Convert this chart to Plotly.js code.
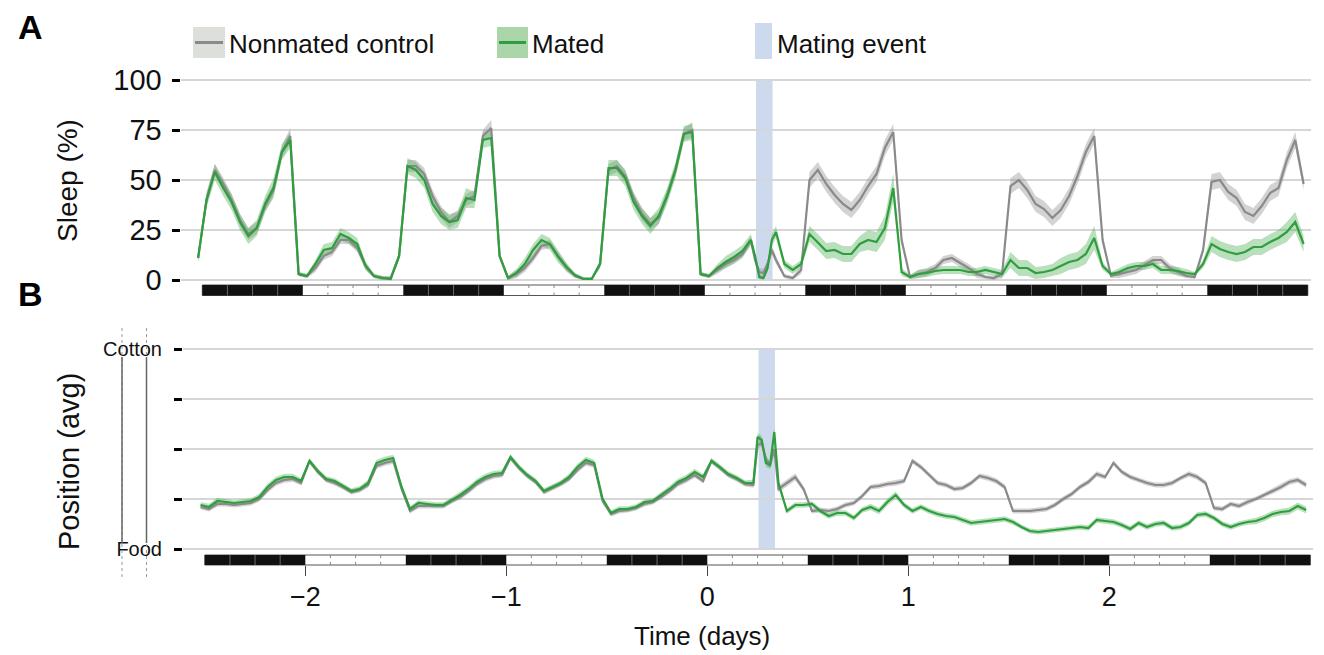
<!DOCTYPE html>
<html>
<head>
<meta charset="utf-8">
<script src="https://cdn.plot.ly/plotly-3.0.1.min.js"></script>
<style>
  html, body { margin: 0; padding: 0; background: #ffffff; }
  #chart { width: 1324px; height: 655px; }
</style>
</head>
<body>
<div id="chart"></div>
<script>
// ---------------- DATA ----------------
// time of each sample, in hours relative to the start of day 0
const hours = [
  -60.5,-59.5,-58.5,-57.5,-56.5,-55.5,-54.5,-53.5,-52.5,-51.5,-50.5,-49.5,
  -48.5,-47.5,-46.5,-45.5,-44.5,-43.5,-42.5,-41.5,-40.5,-39.5,-38.5,-37.5,
  -36.5,-35.5,-34.5,-33.5,-32.5,-31.5,-30.5,-29.5,-28.5,-27.5,-26.5,-25.5,
  -24.5,-23.5,-22.5,-21.5,-20.5,-19.5,-18.5,-17.5,-16.5,-15.5,-14.5,-13.5,
  -12.5,-11.5,-10.5,-9.5,-8.5,-7.5,-6.5,-5.5,-4.5,-3.5,-2.5,-1.5,
  -0.5,0.5,1.5,2.5,3.5,4.5,5.5,
  6.0,6.5,7.0,7.5,8.0,8.5,
  9.5,10.5,11.5,12.5,13.5,14.5,15.5,16.5,17.5,18.5,19.5,20.5,21.5,22.5,
  23.5,24.5,25.5,26.5,27.5,28.5,29.5,30.5,31.5,32.5,33.5,34.5,
  35.5,36.5,37.5,38.5,39.5,40.5,41.5,42.5,43.5,44.5,45.5,46.5,
  47.5,48.5,49.5,50.5,51.5,52.5,53.5,54.5,55.5,56.5,57.5,58.5,
  59.5,60.5,61.5,62.5,63.5,64.5,65.5,66.5,67.5,68.5,69.5,70.5,71.5
];

const seriesNames = ['Nonmated control', 'Mated'];
const eventName = 'Mating event';

// Panel A: sleep (%)
const sleepControl = [
  11,40,55,48,40,30,23,26,37,45,64,72,
  3,2,6,12,14,20,20,16,7,2,1,1,
  12,57,57,53,42,34,29,32,40,42,72,76,
  12,1,3,6,11,17,18,12,6,2,0.5,0.5,
  8,55,57,52,41,33,28,31,42,55,73,75,
  3,2,5,8,10,13,20,
  10,4,3.5,8,15,10,
  2,1,5,50,55,48,42.5,38,35,40,47,53,66,74,
  20,1.5,3,4,6,10,11,8.5,6,3,1.5,1,
  3,47,50,45,38,35.5,31,35,42,52,64,72,
  20,2,3,4,5,7.5,10,10,6,4,2,1.5,
  15,49,50,44,41,34,32,37,43.5,46,60,70,48
];
const sleepMated = [
  11,40,54,46,39,29,22,26,38,46,64,70,
  3,2,8,15,16,23,21,18,7,2,1,0.5,
  12,57,55,50,38,32,29,30,41,40,70,71,
  12,1,3.5,8,15,20,18,11.5,6.5,2.5,0.5,0.5,
  8,56,56,51,39,32,27,32,42,55,73,74,
  3,2,6,9,11.5,14.5,20,
  12,1.5,1,6,20,24,
  8,5,8,23,19,14.5,15,13,13,18,20,19,26,46,
  4,1.5,3,3.5,4.5,5,5,5,4,4,5,4,
  3,10,6,6,3.5,4,5,7,9,10,13,21,
  7,3,4,6,7,7,8,5,5,4.5,3.5,3,
  8,18,15.5,14,13,14,16.5,16.5,19,21,24,29,18
];
const sleepControlCI = [
  2,3,3,3,3,3,3,3,3,3,3,4,
  1,1,2,2,2,2,2,2,2,1,1,1,
  2,3,3,3,3,3,3,3,3,3,3,4,
  1,1,2,2,2,2,2,2,2,1,1,1,
  2,3,3,3,3,3,3,3,3,3,3,4,
  1,1,2,2,2,2,2,
  2,2,2,2,2,2,
  1,1,2,4,4,4,4,4,4,4,4,4,4,4,
  2,1,2,2,2,2,2,2,2,2,1,1,
  2,4,4,4,4,4,4,4,4,4,4,4,
  2,1,2,2,2,2,2,2,2,2,1,1,
  2,4,4,4,4,4,4,4,4,4,4,4,3
];
const sleepMatedCI = [
  2,4,4,4,4,4,4,4,4,5,4,4,
  1,1,2,3,3,3,3,3,2,1,1,1,
  2,4,4,4,4,4,4,4,5,4,4,4,
  1,1,2,3,3,3,3,3,2,1,1,1,
  2,4,4,4,4,4,4,4,4,4,4,4,
  1,1,2,3,3,3,3,
  2,1,1,2,3,3,
  2,2,2,4,4,4,4,4,4,4,5,5,6,7,
  2,1,2,2,2,2,2,2,2,2,2,2,
  2,4,4,4,3,3,3,4,4,4,5,6,
  2,1,2,2,2,2,2,2,2,2,2,1,
  2,4,4,4,4,4,4,4,4,4,5,5,4
];

// Panel B: average position (0 = food end, 1 = cotton end)
const posControl = [
  0.21,0.20,0.225,0.225,0.22,0.225,0.23,0.25,0.295,0.33,0.345,0.35,
  0.33,0.44,0.385,0.345,0.33,0.31,0.285,0.295,0.32,0.415,0.43,0.44,
  0.30,0.19,0.215,0.215,0.215,0.215,0.24,0.26,0.29,0.325,0.35,0.365,
  0.37,0.455,0.405,0.365,0.335,0.285,0.305,0.325,0.35,0.395,0.43,0.42,
  0.24,0.175,0.19,0.195,0.205,0.225,0.235,0.26,0.29,0.325,0.345,0.37,
  0.34,0.44,0.405,0.37,0.35,0.325,0.32,
  0.52,0.53,0.45,0.42,0.50,0.30,
  0.33,0.36,0.30,0.19,0.195,0.19,0.20,0.22,0.23,0.265,0.31,0.315,0.325,0.33,
  0.34,0.44,0.41,0.37,0.33,0.32,0.30,0.305,0.33,0.365,0.355,0.34,
  0.31,0.19,0.19,0.19,0.195,0.20,0.22,0.25,0.275,0.31,0.335,0.375,
  0.36,0.43,0.385,0.36,0.345,0.33,0.32,0.32,0.33,0.355,0.375,0.36,
  0.33,0.205,0.20,0.225,0.215,0.235,0.25,0.27,0.29,0.31,0.335,0.345,0.32
];
const posMated = [
  0.22,0.21,0.24,0.235,0.23,0.235,0.24,0.26,0.31,0.345,0.36,0.36,
  0.34,0.44,0.39,0.35,0.34,0.315,0.29,0.30,0.33,0.43,0.445,0.455,
  0.31,0.20,0.23,0.225,0.22,0.22,0.245,0.27,0.30,0.335,0.36,0.375,
  0.38,0.46,0.41,0.37,0.34,0.29,0.31,0.33,0.36,0.41,0.445,0.43,
  0.25,0.18,0.20,0.20,0.21,0.235,0.24,0.27,0.30,0.335,0.355,0.385,
  0.36,0.44,0.41,0.375,0.355,0.33,0.33,
  0.56,0.545,0.43,0.42,0.585,0.33,
  0.19,0.22,0.22,0.225,0.19,0.165,0.18,0.18,0.155,0.195,0.21,0.19,0.235,0.27,
  0.22,0.19,0.21,0.19,0.175,0.165,0.16,0.145,0.13,0.135,0.14,0.145,
  0.15,0.135,0.11,0.09,0.085,0.09,0.095,0.10,0.105,0.11,0.105,0.145,
  0.14,0.135,0.12,0.10,0.13,0.11,0.125,0.13,0.105,0.11,0.13,0.17,
  0.175,0.155,0.125,0.11,0.125,0.135,0.14,0.155,0.175,0.185,0.19,0.215,0.195
];
const posControlCI = [
  0.012,0.012,0.012,0.012,0.012,0.012,0.012,0.012,0.014,0.014,0.014,0.014,
  0.012,0.012,0.012,0.012,0.012,0.012,0.012,0.012,0.012,0.014,0.014,0.014,
  0.012,0.012,0.012,0.012,0.012,0.012,0.012,0.012,0.014,0.014,0.014,0.014,
  0.012,0.012,0.012,0.012,0.012,0.012,0.012,0.012,0.012,0.014,0.014,0.014,
  0.012,0.012,0.012,0.012,0.012,0.012,0.012,0.012,0.014,0.014,0.014,0.014,
  0.012,0.012,0.012,0.012,0.012,0.012,0.014,
  0.018,0.018,0.018,0.018,0.018,0.018,
  0.018,0.018,0.014,0.012,0.012,0.012,0.012,0.012,0.012,0.012,0.012,0.012,0.012,0.014,
  0.012,0.012,0.012,0.012,0.012,0.012,0.012,0.012,0.012,0.012,0.014,0.014,
  0.012,0.012,0.012,0.012,0.012,0.012,0.012,0.012,0.012,0.012,0.014,0.014,
  0.012,0.012,0.012,0.012,0.012,0.012,0.012,0.012,0.012,0.012,0.014,0.014,
  0.012,0.012,0.012,0.012,0.012,0.012,0.012,0.012,0.014,0.014,0.014,0.014,0.014
];
const posMatedCI = [
  0.014,0.016,0.016,0.014,0.014,0.014,0.014,0.016,0.016,0.016,0.016,0.016,
  0.014,0.014,0.014,0.014,0.014,0.014,0.014,0.014,0.016,0.016,0.016,0.016,
  0.014,0.014,0.014,0.014,0.014,0.014,0.014,0.016,0.016,0.016,0.016,0.016,
  0.014,0.014,0.014,0.014,0.014,0.014,0.014,0.014,0.016,0.016,0.016,0.016,
  0.014,0.014,0.014,0.014,0.014,0.014,0.014,0.014,0.016,0.016,0.016,0.016,
  0.014,0.014,0.014,0.014,0.014,0.014,0.016,
  0.02,0.02,0.02,0.02,0.02,0.02,
  0.014,0.014,0.014,0.014,0.014,0.014,0.014,0.014,0.014,0.014,0.016,0.016,0.018,0.018,
  0.014,0.014,0.014,0.014,0.014,0.014,0.014,0.014,0.014,0.014,0.014,0.014,
  0.014,0.014,0.012,0.012,0.012,0.012,0.012,0.012,0.012,0.012,0.014,0.014,
  0.014,0.014,0.014,0.014,0.014,0.014,0.014,0.014,0.014,0.014,0.014,0.014,
  0.014,0.014,0.014,0.014,0.014,0.014,0.016,0.016,0.016,0.016,0.018,0.018,0.018
];

// Light/dark schedule (days): bar spans ldStart..ldEnd, lights on in these windows
const ldStart = -2.5, ldEnd = 3.0;
const lightPhases = [[-2, -1.5], [-1, -0.5], [0, 0.5], [1, 1.5], [2, 2.5]];
const ldDividerStepDays = 0.125;          // 3-hour marks on the bar

// Mating event window (days)
const matingStart = 0.255, matingEnd = 0.337;

// Axis ticks
const xTicks = [-2, -1, 0, 1, 2];
const xTickLabels = ['\u22122', '\u22121', '0', '1', '2'];
const sleepTicks = [0, 25, 50, 75, 100];
const posTicks = [0, 0.25, 0.5, 0.75, 1];
const posTickLabels = ['Food', '', '', '', 'Cotton'];

// ---------------- DRAWING ----------------
const W = 1324, H = 655;
const px = x => x / W;
const py = y => 1 - y / H;

const FONT = 'Liberation Sans, Arial, Helvetica, sans-serif';
const GRAY = '#8a8a8a', GRAY_BAND = 'rgba(150,150,150,0.42)';
const GREEN = '#2f9e3f', GREEN_BAND = 'rgba(70,170,80,0.38)';
const BLUE_EVENT = '#cdd9ec';

const days = hours.map(h => h / 24);

function bandTrace(mean, ci, color, xa, ya, floor) {
  const up = mean.map((v, i) => v + ci[i]);
  const lo = mean.map((v, i) => floor === undefined ? v - ci[i] : Math.max(floor, v - ci[i]));
  return {
    x: days.concat(days.slice().reverse()),
    y: up.concat(lo.slice().reverse()),
    mode: 'lines', fill: 'toself', fillcolor: color,
    line: { width: 0 }, hoverinfo: 'skip', showlegend: false,
    xaxis: xa, yaxis: ya
  };
}
function lineTrace(name, mean, color, xa, ya) {
  return {
    x: days, y: mean, name: name, mode: 'lines',
    line: { color: color, width: 2.2 }, showlegend: false,
    xaxis: xa, yaxis: ya
  };
}

const traces = [
  bandTrace(sleepControl, sleepControlCI, GRAY_BAND, 'x2', 'y', 0),
  bandTrace(sleepMated, sleepMatedCI, GREEN_BAND, 'x2', 'y', 0),
  lineTrace(seriesNames[0], sleepControl, GRAY, 'x2', 'y'),
  lineTrace(seriesNames[1], sleepMated, GREEN, 'x2', 'y'),
  bandTrace(posControl, posControlCI, GRAY_BAND, 'x', 'y2'),
  bandTrace(posMated, posMatedCI, GREEN_BAND, 'x', 'y2'),
  lineTrace(seriesNames[0], posControl, GRAY, 'x', 'y2'),
  lineTrace(seriesNames[1], posMated, GREEN, 'x', 'y2')
];

const shapes = [];
// mating event bands
shapes.push({ type: 'rect', xref: 'x2', yref: 'y', x0: matingStart, x1: matingEnd, y0: 0, y1: 100,
  fillcolor: BLUE_EVENT, line: { width: 0 }, layer: 'below' });
shapes.push({ type: 'rect', xref: 'x', yref: 'y2', x0: matingStart, x1: matingEnd, y0: 0, y1: 1,
  fillcolor: BLUE_EVENT, line: { width: 0 }, layer: 'below' });

// light/dark bars
function isLight(t) { return lightPhases.some(p => t > p[0] + 1e-9 && t < p[1] - 1e-9); }
function ldBar(xref, yTopPx, yBotPx) {
  const y0 = py(yBotPx), y1 = py(yTopPx);
  shapes.push({ type: 'rect', xref: xref, yref: 'paper', x0: ldStart, x1: ldEnd, y0: y0, y1: y1,
    fillcolor: '#ffffff', line: { color: '#555', width: 1 }, layer: 'above' });
  let edges = [ldStart];
  lightPhases.forEach(p => { edges.push(p[0]); edges.push(p[1]); });
  edges.push(ldEnd);
  for (let i = 0; i + 1 < edges.length; i += 2) {
    shapes.push({ type: 'rect', xref: xref, yref: 'paper', x0: edges[i], x1: edges[i + 1], y0: y0, y1: y1,
      fillcolor: '#111111', line: { width: 0 }, layer: 'above' });
  }
  const tickH = 3 / H;
  for (let t = ldStart + ldDividerStepDays; t < ldEnd - 1e-9; t += ldDividerStepDays) {
    const onEdge = lightPhases.some(p => Math.abs(t - p[0]) < 1e-9 || Math.abs(t - p[1]) < 1e-9);
    if (onEdge) continue;
    if (isLight(t)) {
      shapes.push({ type: 'line', xref: xref, yref: 'paper', x0: t, x1: t, y0: y1, y1: y1 - tickH,
        line: { color: '#888', width: 1 }, layer: 'above' });
      shapes.push({ type: 'line', xref: xref, yref: 'paper', x0: t, x1: t, y0: y0, y1: y0 + tickH,
        line: { color: '#888', width: 1 }, layer: 'above' });
    } else {
      shapes.push({ type: 'line', xref: xref, yref: 'paper', x0: t, x1: t, y0: y0, y1: y1,
        line: { color: '#6a6a6a', width: 1 }, layer: 'above' });
    }
  }
}
ldBar('x2', 285, 295.5);
ldBar('x', 555, 565);

// vial pictogram next to the position axis
[122, 146.5].forEach(xp => {
  shapes.push({ type: 'line', xref: 'paper', yref: 'paper', x0: px(xp), x1: px(xp), y0: py(328), y1: py(577),
    line: { color: '#9a9a9a', width: 1, dash: 'dot' } });
  shapes.push({ type: 'line', xref: 'paper', yref: 'paper', x0: px(xp), x1: px(xp), y0: py(357), y1: py(543),
    line: { color: '#666', width: 1.5 } });
});

// legend (custom, positioned like the original)
const legendItems = [
  { label: seriesNames[0], sx0: 193, sx1: 225, sy0: 27, sy1: 58, box: 'rgb(221,223,219)', line: GRAY, tx: 227 },
  { label: seriesNames[1], sx0: 497, sx1: 528, sy0: 27, sy1: 58, box: 'rgb(170,214,170)', line: GREEN, tx: 530 },
  { label: eventName, sx0: 755, sx1: 772, sy0: 23, sy1: 59, box: BLUE_EVENT, line: null, tx: 775 }
];
const annotations = [];
legendItems.forEach(it => {
  shapes.push({ type: 'rect', xref: 'paper', yref: 'paper', x0: px(it.sx0), x1: px(it.sx1), y0: py(it.sy1), y1: py(it.sy0),
    fillcolor: it.box, line: { width: 0 } });
  if (it.line) {
    const ym = (it.sy0 + it.sy1) / 2;
    shapes.push({ type: 'line', xref: 'paper', yref: 'paper', x0: px(it.sx0 + 2), x1: px(it.sx1 - 2), y0: py(ym), y1: py(ym),
      line: { color: it.line, width: 3 } });
  }
  annotations.push({ text: it.label, xref: 'paper', yref: 'paper', x: px(it.tx), y: py(44),
    xanchor: 'left', yanchor: 'middle', showarrow: false, font: { family: FONT, size: 26, color: '#111' } });
});

// panel letters and axis titles
annotations.push({ text: '<b>A</b>', xref: 'paper', yref: 'paper', x: px(30), y: py(27), xanchor: 'center', yanchor: 'middle',
  showarrow: false, font: { family: FONT, size: 34, color: '#000' } });
annotations.push({ text: '<b>B</b>', xref: 'paper', yref: 'paper', x: px(30), y: py(294), xanchor: 'center', yanchor: 'middle',
  showarrow: false, font: { family: FONT, size: 34, color: '#000' } });
annotations.push({ text: 'Sleep (%)', xref: 'paper', yref: 'paper', x: px(67), y: py(181), textangle: -90,
  xanchor: 'center', yanchor: 'middle', showarrow: false, font: { family: FONT, size: 28, color: '#111' } });
annotations.push({ text: 'Position (avg)', xref: 'paper', yref: 'paper', x: px(69), y: py(462), textangle: -90,
  xanchor: 'center', yanchor: 'middle', showarrow: false, font: { family: FONT, size: 29, color: '#111' } });
annotations.push({ text: 'Time (days)', xref: 'paper', yref: 'paper', x: px(702), y: py(636),
  xanchor: 'center', yanchor: 'middle', showarrow: false, font: { family: FONT, size: 26, color: '#111' } });

const xMin = (183 - 707.3) / 201, xMax = (1313 - 707.3) / 201;

const layout = {
  width: W, height: H, autosize: false,
  margin: { l: 0, r: 0, t: 0, b: 0, pad: 0 },
  paper_bgcolor: '#ffffff', plot_bgcolor: 'rgba(0,0,0,0)',
  showlegend: false,
  font: { family: FONT, color: '#111' },
  xaxis: {
    domain: [px(183), px(1313)], range: [xMin, xMax], anchor: 'y2',
    tickvals: xTicks, ticktext: xTickLabels, ticks: 'outside', ticklen: 10, tickwidth: 1.5, tickcolor: '#444',
    showgrid: false, zeroline: false, showline: false, fixedrange: true,
    tickfont: { family: FONT, size: 27, color: '#111' }, ticklabelstandoff: -2
  },
  xaxis2: {
    domain: [px(180.5), px(1310.5)], range: [xMin, xMax], anchor: 'y',
    showticklabels: false, ticks: '', showgrid: false, zeroline: false, showline: false, fixedrange: true
  },
  yaxis: {
    domain: [py(290), py(70)], range: [-5, 105], anchor: 'x2',
    tickvals: sleepTicks, ticks: 'outside', ticklen: 8, tickwidth: 3, tickcolor: '#000',
    showgrid: true, gridcolor: '#d6d6d6', gridwidth: 1.5, zeroline: false, showline: false, fixedrange: true,
    tickfont: { family: FONT, size: 29, color: '#111' }, ticklabelstandoff: 4
  },
  yaxis2: {
    domain: [py(565), py(340)], range: [-0.08, 1.045], anchor: 'x',
    tickvals: posTicks, ticktext: posTickLabels, ticks: 'outside', ticklen: 8, tickwidth: 3, tickcolor: '#000',
    showgrid: true, gridcolor: '#d6d6d6', gridwidth: 1.5, zeroline: false, showline: false, fixedrange: true,
    tickfont: { family: FONT, size: 20, color: '#111' }, ticklabelstandoff: 8
  },
  shapes: shapes,
  annotations: annotations
};

Plotly.newPlot('chart', traces, layout, { displayModeBar: false, staticPlot: true });
</script>
</body>
</html>
